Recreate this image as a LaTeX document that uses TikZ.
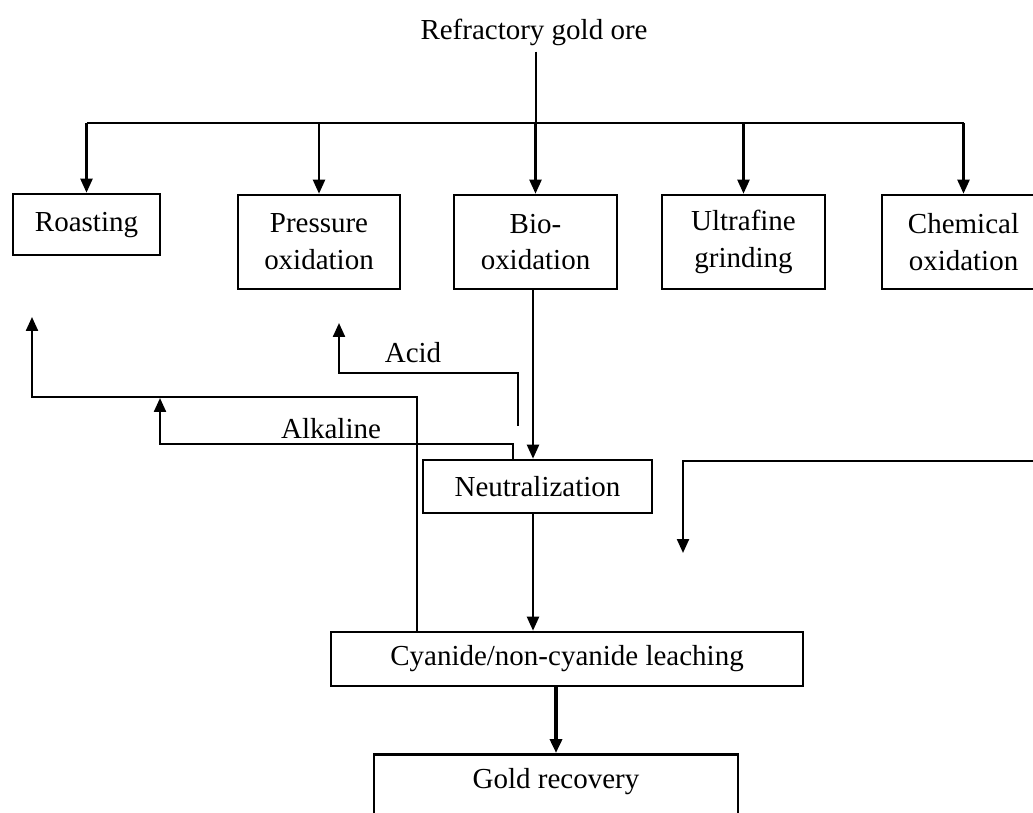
\documentclass[tikz,border=0pt]{standalone}
\usepackage{fontspec}
\setmainfont{Liberation Serif}
\usetikzlibrary{arrows.meta}

\begin{document}
\begin{tikzpicture}[x=0.02cm, y=-0.02cm,
        every node/.style={font=\fontsize{16.5}{21}\selectfont, align=center},
        box/.style={draw, line width=1.5pt, inner sep=0pt},
        flow/.style={-{Triangle[length=0.28cm,width=0.24cm]}, line width=1.3pt}]
    \clip (0,0) rectangle (1033,813);
    \node (ore) at (534,32) {Refractory gold ore};
    \node[box, minimum width=2.94cm, minimum height=1.22cm] (roast) at (86.5,224.5) {Roasting\strut};
    \node[box, minimum width=3.24cm, minimum height=1.88cm] (press) at (319,242) {Pressure\\oxidation};
    \node[box, minimum width=3.26cm, minimum height=1.88cm] (bio) at (535.5,242) {Bio-\\oxidation};
    \node[box, minimum width=3.26cm, minimum height=1.88cm] (ultra) at (743.5,242) {Ultrafine\\grinding};
    \node[box, minimum width=3.26cm, minimum height=1.88cm] (chem) at (963.5,242) {Chemical\\oxidation};
    \node[box, minimum width=4.58cm, minimum height=1.06cm] (neut) at (537.5,486.5) {Neutralization};
    \node[box, minimum width=9.44cm, minimum height=1.08cm] (leach) at (567,659) {Cyanide/non-cyanide leaching};
    \node[box, anchor=north, minimum width=7.28cm, text height=0.68cm, text depth=1cm] (gold) at (556,753) {Gold recovery};
    \node (acidlbl) at (413,353) {Acid};
    \node (alklbl) at (331,429) {Alkaline};
    % bus from the ore to the five routes
    \coordinate (split) at (536,123);
    \draw[line width=1.3pt] (ore.south -| split) -- (split);
    \draw[line width=1.3pt] (roast.north |- split) -- (chem.north |- split);
    \foreach \n in {roast,press,bio,ultra,chem}
        \draw[flow] (\n.north |- split) -- (\n.north);
    % main line down
    \draw[flow] (bio.south -| 533,0) -- (neut.north -| 533,0);
    \draw[flow] (neut.south -| 533,0) -- (leach.north -| 533,0);
    \draw[flow, line width=2pt] (leach.south -| gold.north) -- (gold.north);
    % acid and alkaline returns
    \coordinate (acidin) at (518,426);
    \coordinate (acidout) at (339,323);
    \draw[flow] (acidin) -- (518,373) -| (acidout);
    \coordinate (alk) at (513,444);
    \coordinate (alkout) at (160,398);
    \draw[flow] (neut.north -| alk) -- (alk) -| (alkout);
    \coordinate (rec) at (417,397);
    \coordinate (recout) at (32,317);
    \draw[flow] (leach.north -| rec) -- (rec) -| (recout);
    % feed from the right
    \coordinate (side) at (1045,461);
    \coordinate (sideout) at (683,553);
    \draw[flow] (side) -| (sideout);
\end{tikzpicture}
\end{document}
